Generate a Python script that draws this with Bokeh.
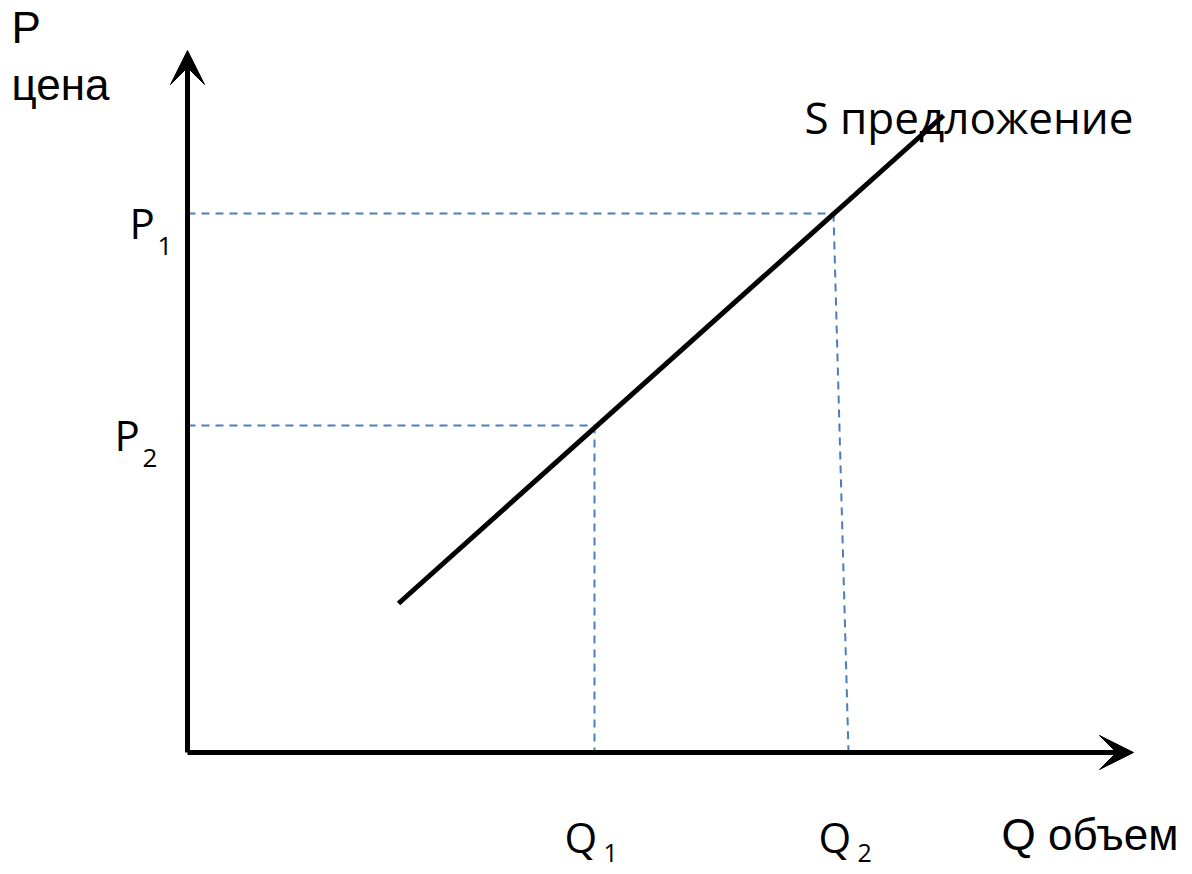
from bokeh.plotting import figure
from bokeh.models import Range1d, Arrow, VeeHead, Label
from bokeh.embed import file_html
from bokeh.resources import INLINE

# ---- data (economic units) ----
q_axis_end = 9.46
p_axis_end = 7.02
supply_q = [2.11, 7.56]
supply_p = [1.49, 6.37]
price_levels = [5.39, 3.27]      # P1, P2
qty_on_curve = [6.46, 4.07]      # Q where dashed guides meet the curve
qty_on_axis = [6.61, 4.07]       # Q2, Q1 on the horizontal axis
price_subs = ["1", "2"]
qty_subs = ["2", "1"]
axis_p_label = ["P", "цена"]
axis_q_label = "Q объем"
curve_label = "S предложение"

p = figure(width=1192, height=874, output_backend="svg", toolbar_location=None,
           x_range=Range1d(-1.87, 10.05), y_range=Range1d(-1.22, 7.52),
           x_axis_location=None, y_axis_location=None, min_border=0)
p.grid.visible = False
p.outline_line_color = None
p.background_fill_color = "white"

# axes with arrows
p.add_layout(Arrow(x_start=0, y_start=0, x_end=0, y_end=p_axis_end, line_width=5, line_color="black",
                   end=VeeHead(size=34, fill_color="black", line_color="black", line_width=1)))
p.add_layout(Arrow(x_start=0, y_start=0, x_end=q_axis_end, y_end=0, line_width=5, line_color="black",
                   end=VeeHead(size=34, fill_color="black", line_color="black", line_width=1)))

# dashed guides
blue = "#4A7EBB"
for pl, qc, qa in zip(price_levels, qty_on_curve, qty_on_axis):
    p.line([0, qc], [pl, pl], line_color=blue, line_width=2, line_dash="8 6")
    p.line([qc, qa], [pl, 0], line_color=blue, line_width=2, line_dash="8 6")

# supply curve
p.line(supply_q, supply_p, line_color="black", line_width=5)

arial = "Liberation Sans"
cal = "Open Sans"

def lab(x, y, t, font, size):
    # compensate the renderer's baseline placement (~0.37 em)
    y = y + 0.0037 * size
    p.add_layout(Label(x=x, y=y, text=t, text_font=font, text_font_size=f"{size}px",
                       text_color="black", text_baseline="alphabetic", text_align="left"))

# P / цена
lab(-1.76, p_axis_end + 0.07, axis_p_label[0], arial, 44)
lab(-1.76, p_axis_end - 0.50, axis_p_label[1], arial, 44)
# Q объем
lab(8.14, -0.98, axis_q_label, arial, 44)
# S предложение
lab(6.17, supply_p[1] - 0.18, curve_label, cal, 44)

# price labels
for pl, sub, dx in zip(price_levels, price_subs, [-0.58, -0.73]):
    lab(dx, pl - 0.25, "P", cal, 42)
    lab(dx + 0.28, pl - 0.42, sub, cal, 26)

# quantity labels
for qa, sub in zip(qty_on_axis, qty_subs):
    lab(qa - 0.30, -1.00, "Q", cal, 42)
    lab(qa + 0.09, -1.10, sub, cal, 25)

open("out.html", "w").write(file_html(p, INLINE))
